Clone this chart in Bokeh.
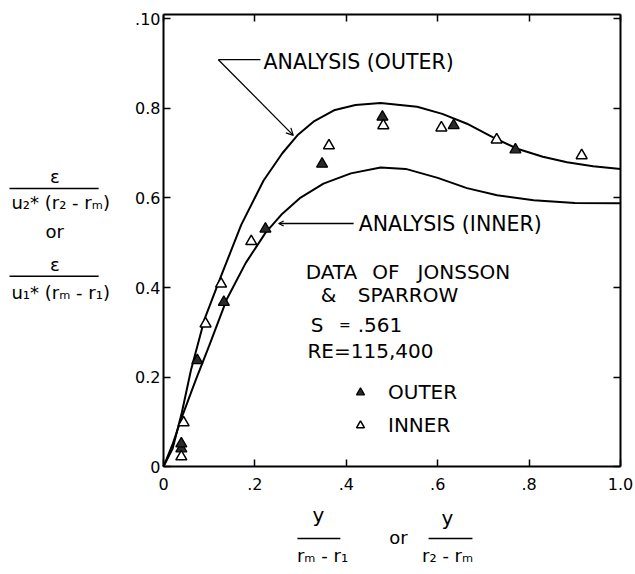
from bokeh.plotting import figure
from bokeh.models import (Range1d, FixedTicker, LinearAxis, Label, Arrow, OpenHead,
                          Legend, LegendItem)
from bokeh.embed import file_html
from bokeh.resources import INLINE

# ---------------- data ----------------
x_ticks = [0, 0.2, 0.4, 0.6, 0.8, 1.0]
x_tick_labels = ["0", ".2", ".4", ".6", ".8", "1.0"]
y_ticks = [0, 0.2, 0.4, 0.6, 0.8, 1.0]
y_tick_labels = ["0", "0.2", "0.4", "0.6", "0.8", ".10"]

analysis_outer_x = [0, 0.02, 0.04, 0.06, 0.09, 0.125, 0.17, 0.219, 0.26, 0.293, 0.33,
                    0.373, 0.42, 0.475, 0.555, 0.61, 0.664, 0.72, 0.774, 0.83, 0.883,
                    0.94, 1.0]
analysis_outer_y = [0, 0.04, 0.12, 0.215, 0.33, 0.423, 0.54, 0.639, 0.70, 0.74, 0.772,
                    0.796, 0.808, 0.812, 0.804, 0.788, 0.766, 0.736, 0.71, 0.692, 0.68,
                    0.671, 0.665]

analysis_inner_x = [0, 0.02, 0.04, 0.07, 0.1, 0.139, 0.18, 0.223, 0.26, 0.3, 0.35, 0.41,
                    0.475, 0.53, 0.6, 0.664, 0.73, 0.81, 0.9, 1.0]
analysis_inner_y = [0, 0.05, 0.11, 0.192, 0.27, 0.375, 0.455, 0.522, 0.565, 0.601, 0.632,
                    0.655, 0.668, 0.665, 0.645, 0.622, 0.606, 0.595, 0.589, 0.588]

outer_data_x = [0.039, 0.039, 0.074, 0.132, 0.223, 0.347, 0.479, 0.635, 0.770]
outer_data_y = [0.040, 0.051, 0.237, 0.367, 0.531, 0.676, 0.781, 0.762, 0.708]

inner_data_x = [0.039, 0.044, 0.092, 0.126, 0.192, 0.362, 0.481, 0.608, 0.729, 0.915]
inner_data_y = [0.022, 0.098, 0.319, 0.408, 0.503, 0.717, 0.762, 0.757, 0.730, 0.695]

X_MIN, X_MAX = 0.0, 1.0      # plotted box
Y_MIN, Y_MAX = 0.0, 1.01

FONT = "DejaVu Sans"

# ---------------- figure ----------------
# The frame covers the whole canvas so that the stacked axis titles (drawn as
# annotations in data space) are not clipped; the real axes are pinned at the
# box edges with fixed_location/bounds.
p = figure(frame_width=635, frame_height=574,
           x_range=Range1d(-0.3567, 1.0328), y_range=Range1d(-0.2413, 1.0413),
           output_backend="svg", toolbar_location=None,
           min_border=0, background_fill_color="white",
           border_fill_color="white", x_axis_location=None, y_axis_location=None)
p.xgrid.visible = False
p.ygrid.visible = False
p.outline_line_color = None

def make_axis(ticks, labels, standoff, loc, bounds, show_labels=True):
    ax = LinearAxis(fixed_location=loc, bounds=bounds)
    ax.ticker = FixedTicker(ticks=ticks)
    ax.major_label_overrides = {t: l for t, l in zip(ticks, labels)}
    ax.axis_line_color = "black"
    ax.axis_line_width = 2
    ax.major_tick_in = 7
    ax.major_tick_out = 0
    ax.major_tick_line_width = 1.5
    ax.minor_tick_line_color = None
    ax.major_label_text_font = FONT
    ax.major_label_text_font_size = "16px" if show_labels else "0px"
    ax.major_label_text_color = "black"
    ax.major_label_standoff = standoff
    return ax

p.add_layout(make_axis(x_ticks, x_tick_labels, 11, Y_MIN, (X_MIN, X_MAX)), "below")
p.add_layout(make_axis(y_ticks, y_tick_labels, 3, X_MIN, (Y_MIN, Y_MAX)), "left")
p.add_layout(make_axis(x_ticks, ["" for _ in x_ticks], 0, Y_MAX, (X_MIN, X_MAX), False), "above")
p.add_layout(make_axis(y_ticks, ["" for _ in y_ticks], 0, X_MAX, (Y_MIN, Y_MAX), False), "right")

# curves
p.line(analysis_outer_x, analysis_outer_y, line_color="black", line_width=2)
p.line(analysis_inner_x, analysis_inner_y, line_color="black", line_width=2)

# data points
r_out = p.scatter(outer_data_x, outer_data_y, marker="triangle", size=11,
                  fill_color="#2a2a2a", line_color="black", line_width=1.3)
r_in = p.scatter(inner_data_x, inner_data_y, marker="triangle", size=11,
                 fill_color="white", line_color="black", line_width=1.5)

legend = Legend(items=[LegendItem(label="OUTER", renderers=[r_out]),
                       LegendItem(label="INNER", renderers=[r_in])],
                location=(350, 137), orientation="vertical",
                background_fill_alpha=0, border_line_color=None,
                label_text_font=FONT, label_text_font_size="20px",
                label_text_color="black",
                glyph_width=20, glyph_height=20, label_height=20,
                label_standoff=18, spacing=9, padding=0, margin=0)
p.add_layout(legend)

def lab(x, y, text, size="20px", align="left"):
    p.add_layout(Label(x=x, y=y, text=text, text_font=FONT, text_font_size=size,
                       text_align=align, text_baseline="middle", text_color="black"))

def seg(x0, y0, x1, y1, head=None, w=1.3):
    p.add_layout(Arrow(x_start=x0, y_start=y0, x_end=x1, y_end=y1, end=head,
                       line_color="black", line_width=w))

# in-plot annotations
lab(0.219, 0.903, "ANALYSIS (OUTER)", "20.5px")
seg(0.120, 0.909, 0.212, 0.909)
seg(0.120, 0.909, 0.284, 0.740, OpenHead(size=7, line_width=1.2))
lab(0.427, 0.541, "ANALYSIS (INNER)", "20.5px")
seg(0.416, 0.543, 0.252, 0.543, OpenHead(size=5, line_width=1.2))
lab(0.311, 0.434, "DATA")
lab(0.457, 0.434, "OF")
lab(0.556, 0.434, "JONSSON")
lab(0.344, 0.384, "&")
lab(0.425, 0.384, "SPARROW")
lab(0.322, 0.317, "S")
lab(0.384, 0.317, "=", "14px")
lab(0.425, 0.317, ".561")
lab(0.315, 0.259, "RE=115,400")

# y-axis title (stacked fractions)
lab(-0.238, 0.648, "ε", "18px", "center")
seg(-0.337, 0.621, -0.142, 0.621, w=1.5)
lab(-0.225, 0.590, "u₂* (r₂ - rₘ)", "18px", "center")
lab(-0.238, 0.525, "or", "18px", "center")
lab(-0.238, 0.451, "ε", "18px", "center")
seg(-0.337, 0.425, -0.142, 0.425, w=1.5)
lab(-0.225, 0.389, "u₁* (rₘ - r₁)", "18px", "center")

# x-axis title
lab(0.339, -0.109, "y", "20px", "center")
seg(0.293, -0.161, 0.387, -0.161, w=1.5)
lab(0.348, -0.199, "rₘ - r₁", "18px", "center")
lab(0.514, -0.159, "or", "18px", "center")
lab(0.621, -0.114, "y", "20px", "center")
seg(0.580, -0.161, 0.676, -0.161, w=1.5)
lab(0.628, -0.199, "r₂ -  rₘ", "18px", "center")

open("out.html", "w").write(file_html(p, INLINE))
